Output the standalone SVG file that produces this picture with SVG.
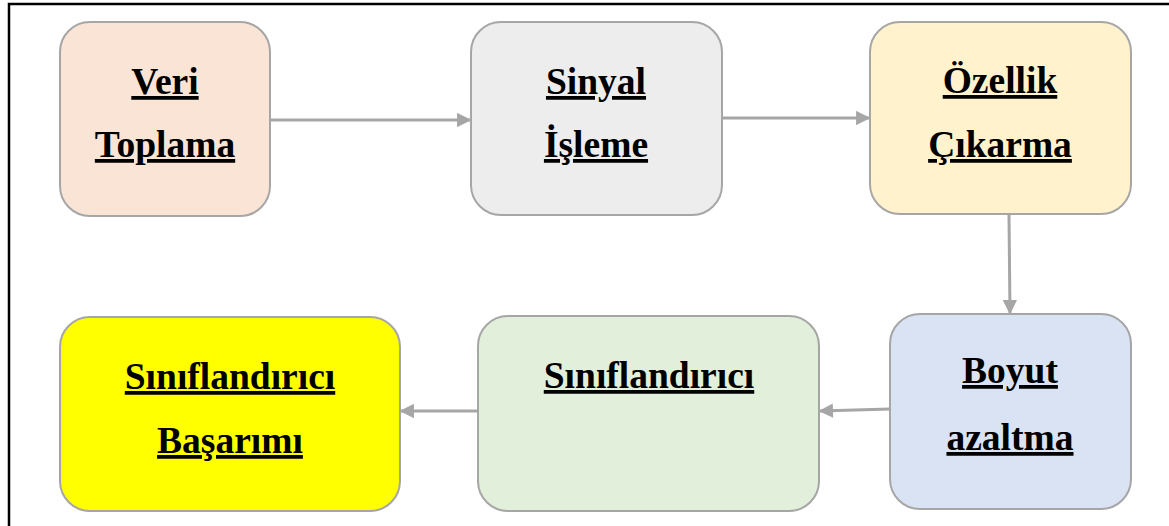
<svg xmlns="http://www.w3.org/2000/svg" width="1169" height="526" viewBox="0 0 1169 526">
  <defs>
    <marker id="arrow" viewBox="0 0 10 10" refX="9" refY="5" markerWidth="5.4" markerHeight="4.8" orient="auto" markerUnits="strokeWidth">
      <path d="M0,0 L10,5 L0,10 z" fill="#A6A6A6"/>
    </marker>
  </defs>
  <style>
    .box { stroke: #A6A6A6; stroke-width: 2; }
    .label { font-family: "Liberation Serif", "Times New Roman", serif; font-weight: bold; font-size: 37.5px; fill: #000; text-anchor: middle; text-decoration: underline; text-decoration-thickness: 3px; text-underline-offset: 5px; }
    .conn { stroke: #A6A6A6; stroke-width: 3; fill: none; marker-end: url(#arrow); }
  </style>

  <rect width="1169" height="526" fill="#FFFFFF"/>
  <!-- page frame -->
  <path d="M9,526 V4 H1169" fill="none" stroke="#000" stroke-width="2.5"/>

  <g id="connectors">
    <line class="conn" x1="270" y1="120" x2="470" y2="120"/>
    <line class="conn" x1="722" y1="118" x2="869" y2="118"/>
    <line class="conn" x1="1009" y1="215" x2="1010" y2="313"/>
    <line class="conn" x1="890" y1="409" x2="820" y2="411"/>
    <line class="conn" x1="478" y1="411" x2="401" y2="411"/>
  </g>

  <g id="veri-toplama">
    <rect class="box" x="60" y="22" width="210" height="194" rx="30" fill="#FAE4D6"/>
    <text class="label" x="165" y="94">Veri</text>
    <text class="label" x="165" y="157">Toplama</text>
  </g>

  <g id="sinyal-isleme">
    <rect class="box" x="471" y="22" width="251" height="193" rx="30" fill="#EDEDED"/>
    <text class="label" x="596" y="94">Sinyal</text>
    <text class="label" x="596" y="157">İşleme</text>
  </g>

  <g id="ozellik-cikarma">
    <rect class="box" x="870" y="22" width="261" height="192" rx="30" fill="#FFF2CC"/>
    <text class="label" x="1000" y="93">Özellik</text>
    <text class="label" x="1000" y="157">Çıkarma</text>
  </g>

  <g id="boyut-azaltma">
    <rect class="box" x="890" y="314" width="241" height="195" rx="30" fill="#DAE3F3"/>
    <text class="label" x="1010" y="383">Boyut</text>
    <text class="label" x="1010" y="450">azaltma</text>
  </g>

  <g id="siniflandirici">
    <rect class="box" x="478" y="316" width="341" height="195" rx="30" fill="#E2EFDA"/>
    <text class="label" x="649" y="388">Sınıflandırıcı</text>
  </g>

  <g id="siniflandirici-basarimi">
    <rect class="box" x="60" y="317" width="340" height="194" rx="30" fill="#FFFF00"/>
    <text class="label" x="230" y="389">Sınıflandırıcı</text>
    <text class="label" x="230" y="453">Başarımı</text>
  </g>
</svg>
